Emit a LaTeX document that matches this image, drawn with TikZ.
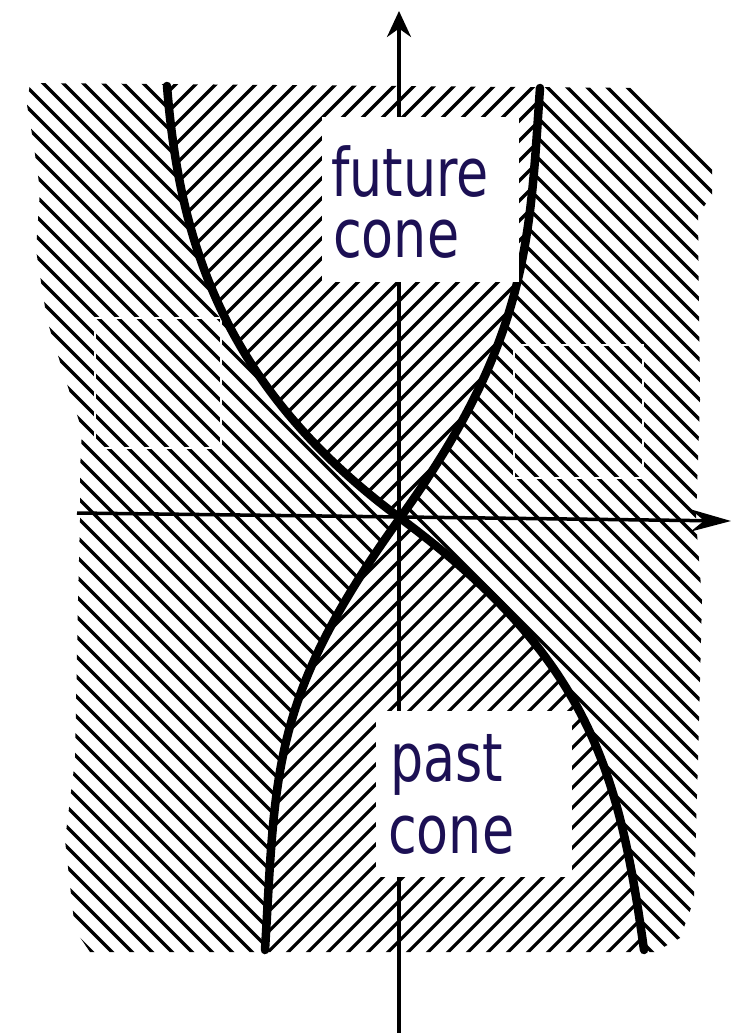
\documentclass[tikz,border=0pt]{standalone}
\usepackage{fontspec}
\newfontfamily\lblfont{DejaVu Sans}[FakeStretch=0.78]
\usetikzlibrary{arrows.meta}
\definecolor{navy}{RGB}{28,16,84}
\newcommand\regionpath{(30,83) -- (645,88) -- (712,162) -- (712,195) -- (698,215) -- (700,400) -- (696,520) -- (702,600) -- (698,760) -- (694,900) -- (680,938) -- (655,952) -- (90,952) -- (75,930) -- (65,840) -- (75,760) -- (78,600) -- (80,520) -- (80,470) -- (82,430) -- (65,378) -- (47,320) -- (36,250) -- (40,190) -- (33,140) -- (27,105) -- cycle}
\newcommand\futurecone{(400,518) .. controls (220,385) and (179,236) .. (167,86) -- (167,0) -- (540,0) -- (540,88) .. controls (529.5,238) and (530,338) .. (400,518) -- cycle}
\newcommand\pastcone{(400,518) .. controls (270.4,698) and (275.8,770) .. (265,950) -- (265,1040) -- (644,1040) -- (644,950) .. controls (619,770) and (589,658) .. (400,518) -- cycle}
\begin{document}
\begin{tikzpicture}[x=1pt,y=-1pt,
  hatch/.style={line width=3.2pt},
  conecurve/.style={line width=8.5pt, line cap=round, line join=round},
  axis/.style={line width=3.5pt},
  lbl/.style={font=\lblfont\fontsize{67}{67}\selectfont, text=navy, inner sep=0pt, anchor=base west},
  seam/.style={draw=white, line width=1.2pt}
]
\useasboundingbox (0,0) rectangle (747,1033);
% hatching outside the cones
\begin{scope}
  \clip \regionpath;
  \begin{scope}[even odd rule]
    \clip (-20,-20) rectangle (770,1060) \futurecone \pastcone;
    \draw[hatch] \foreach \c in {-1100,-1080,...,780} {(\c,0) -- ++(1100,1100)};
  \end{scope}
\end{scope}
% hatching inside the cones
\begin{scope}
  \clip \regionpath;
  \clip \futurecone \pastcone;
  \draw[hatch] \foreach \c in {0,20,...,1900} {(\c,0) -- ++(-1100,1100)};
\end{scope}
% seams of pasted patches
\draw[seam] (95,318) rectangle (221,448);
\draw[seam] (514,345) rectangle (643,478);
% cone boundaries
\coordinate (o) at (400,518);
\coordinate (fl) at (167,86);
\coordinate (fr) at (540,88);
\coordinate (pl) at (265,950);
\coordinate (pr) at (644,950);
\draw[conecurve] (fl) .. controls (179,236) and (220,385) .. (o) .. controls (589,658) and (619,770) .. (pr);
\draw[conecurve] (fr) .. controls (529.5,238) and (530,338) .. (o) .. controls (270.4,698) and (275.8,770) .. (pl);
% axes
\coordinate (ybot) at (399,1033);
\coordinate (ytip) at (399,11);
\coordinate (xl) at (77,513);
\coordinate (xr) at (731,521);
\draw[axis, -{Stealth[length=26pt,width=24pt]}] (ybot) -- (ytip);
\draw[axis, -{Stealth[length=40pt,width=22pt]}] (xl) -- (xr);
% label boxes
\fill[white] (322,117) rectangle (519,282);
\fill[white] (376,711) rectangle (572,877);
\node[lbl] (fut1) at (331,196) {future};
\node[lbl] (fut2) at (333,257) {cone};
\node[lbl] (past1) at (390,781) {past};
\node[lbl] (past2) at (388,853) {cone};
\end{tikzpicture}
\end{document}
